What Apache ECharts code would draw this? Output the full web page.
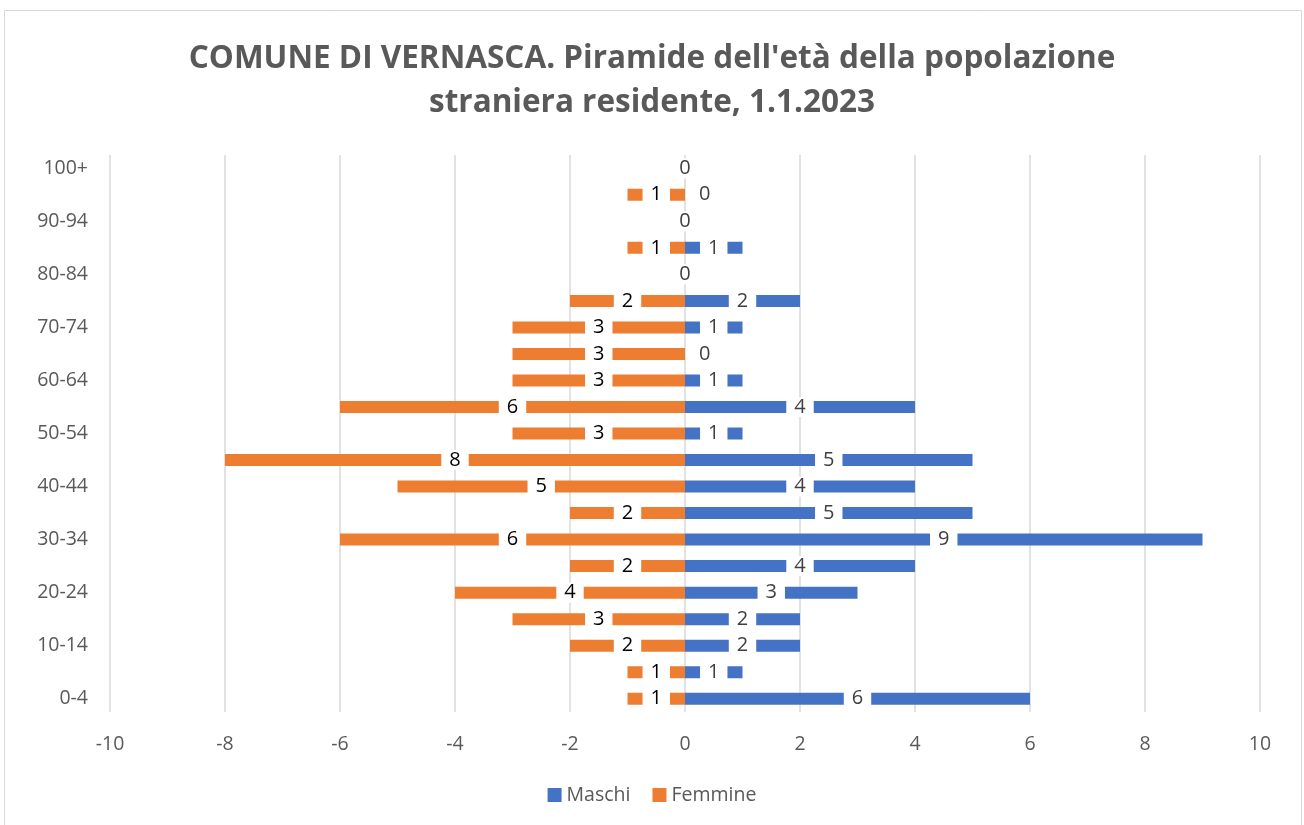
<!DOCTYPE html>
<html>
<head>
<meta charset="utf-8">
<script src="https://cdn.jsdelivr.net/npm/echarts@6/dist/echarts.min.js"></script>
<style>
  html, body { margin: 0; padding: 0; background: #fff; }
  #main { width: 1304px; height: 825px; }
</style>
</head>
<body>
<div id="main"></div>
<script>
var ageGroups = ['0-4', '5-9', '10-14', '15-19', '20-24', '25-29', '30-34', '35-39', '40-44', '45-49',
    '50-54', '55-59', '60-64', '65-69', '70-74', '75-79', '80-84', '85-89', '90-94', '95-99', '100+'];
var maschi = [6, 1, 2, 2, 3, 4, 9, 5, 4, 5, 1, 4, 1, 0, 1, 2, 0, 1, 0, 0, 0];
var femmine = [1, 1, 2, 3, 4, 2, 6, 2, 5, 8, 3, 6, 3, 3, 3, 2, 0, 1, 0, 1, 0];
var xTicks = [-10, 10, 2];

var fontFam = '"Open Sans", "Noto Sans", sans-serif';

// femmine drawn to the left as negative values
var femData = [];
var masData = [];
for (var i = 0; i < ageGroups.length; i++) {
    var f = { value: -femmine[i] };
    var m = { value: maschi[i] };
    if (femmine[i] === 0 && maschi[i] === 0) {
        f.label = { show: false };
    } else if (maschi[i] === 0) {
        m.label = { position: 'right', distance: 6 };
    }
    femData.push(f);
    masData.push(m);
}

var chart = echarts.init(document.getElementById('main'));

var option = {
    backgroundColor: '#fff',
    animation: false,
    textStyle: { fontFamily: fontFam },
    title: {
        text: "COMUNE DI VERNASCA. Piramide dell'età della popolazione\nstraniera residente, 1.1.2023",
        left: 'center',
        top: 32,
        textStyle: {
            fontFamily: fontFam,
            fontSize: 31.5,
            fontWeight: 'bold',
            color: '#595959',
            lineHeight: 44
        }
    },
    graphic: [{
        type: 'rect',
        shape: { x: 4.5, y: 10.5, width: 1297, height: 830 },
        style: { fill: 'none', stroke: '#d9d9d9', lineWidth: 1 },
        silent: true
    }],
    legend: {
        bottom: 15,
        left: 'center',
        itemWidth: 14,
        itemHeight: 14,
        itemGap: 22,
        icon: 'rect',
        textStyle: { fontFamily: fontFam, fontSize: 19.5, color: '#595959' },
        data: ['Maschi', 'Femmine']
    },
    grid: { left: 110, right: 44, top: 155, bottom: 113 },
    xAxis: {
        type: 'value',
        min: xTicks[0],
        max: xTicks[1],
        interval: xTicks[2],
        axisLine: { show: false },
        axisTick: { show: false },
        splitLine: { lineStyle: { color: '#d9d9d9', width: 1.5 } },
        axisLabel: { fontFamily: fontFam, fontSize: 19.5, color: '#595959', margin: 22 }
    },
    yAxis: {
        type: 'category',
        data: ageGroups,
        axisLine: { show: false },
        axisTick: { show: false },
        axisLabel: { interval: 1, fontFamily: fontFam, fontSize: 19.5, color: '#595959', margin: 22 }
    },
    series: [
        {
            name: 'Maschi',
            type: 'bar',
            data: masData,
            barWidth: 12,
            barGap: '-100%',
            itemStyle: { color: '#4472C4' },
            label: {
                show: true,
                position: 'inside',
                fontFamily: fontFam,
                fontSize: 20,
                color: '#404040',
                backgroundColor: '#fff',
                padding: [0, 8]
            }
        },
        {
            name: 'Femmine',
            type: 'bar',
            data: femData,
            barWidth: 12,
            itemStyle: { color: '#ED7D31' },
            label: {
                show: true,
                position: 'inside',
                fontFamily: fontFam,
                fontSize: 20,
                color: '#000',
                backgroundColor: '#fff',
                padding: [0, 8],
                formatter: function (p) { return Math.abs(p.value); }
            }
        }
    ]
};

chart.setOption(option);
</script>
</body>
</html>
